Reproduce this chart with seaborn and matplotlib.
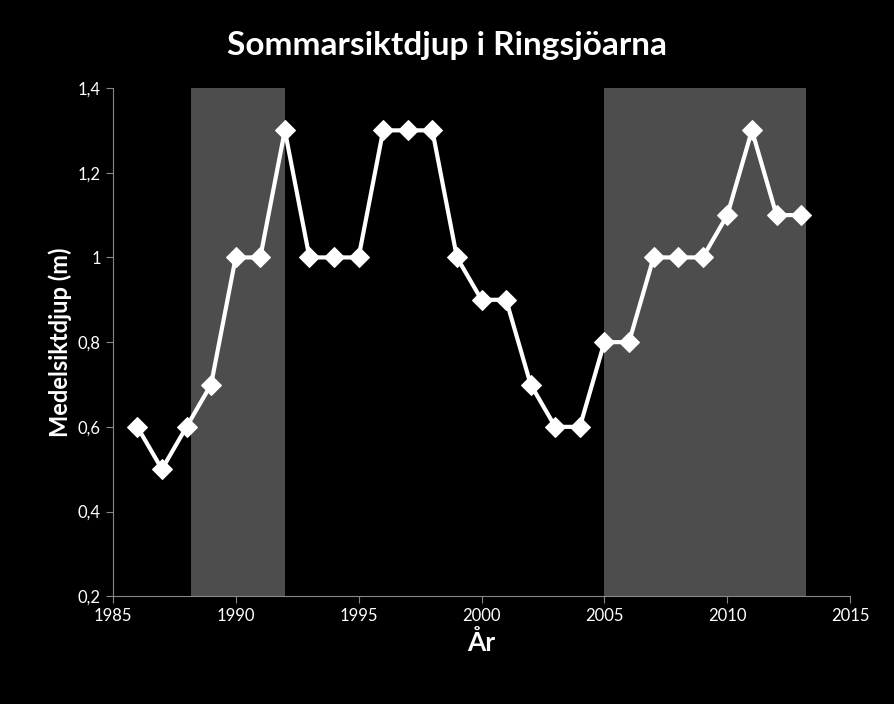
import matplotlib
matplotlib.use("Agg")
import matplotlib.pyplot as plt
import seaborn as sns
import pandas as pd

years = list(range(1986, 2014))
depth = [0.6, 0.5, 0.6, 0.7, 1.0, 1.0, 1.3, 1.0, 1.0, 1.0, 1.3, 1.3, 1.3, 1.0,
         0.9, 0.9, 0.7, 0.6, 0.6, 0.8, 0.8, 1.0, 1.0, 1.0, 1.1, 1.3, 1.1, 1.1]
shade_spans = [(1988.2, 1992.0), (2005.0, 2013.2)]
xticks = [1985, 1990, 1995, 2000, 2005, 2010, 2015]
yticks = [0.2, 0.4, 0.6, 0.8, 1.0, 1.2, 1.4]
ylabels = ["0,2", "0,4", "0,6", "0,8", "1", "1,2", "1,4"]

sns.set_style("dark")
plt.rcParams['font.family'] = ['Lato', 'DejaVu Sans']

fig = plt.figure(figsize=(8.95, 7.04), dpi=100, facecolor="black")
ax = fig.add_axes([0.126, 0.153, 0.824, 0.722])
ax.set_facecolor("black")

for a, b in shade_spans:
    ax.axvspan(a, b, color="#4d4d4d", zorder=0, lw=0)

df = pd.DataFrame({"year": years, "depth": depth})
sns.lineplot(data=df, x="year", y="depth", ax=ax, color="white", lw=3,
             marker="D", markersize=10, markeredgecolor="white", zorder=3)

ax.set_xlim(1985, 2015)
ax.set_ylim(0.2, 1.4)
ax.set_xticks(xticks)
ax.set_xticklabels([str(t) for t in xticks])
ax.set_yticks(yticks)
ax.set_yticklabels(ylabels)
ax.tick_params(colors="white", labelsize=12, length=5, direction="out",
               bottom=True, left=True, color="#888888")
ax.grid(False)
for s in ["top", "right"]:
    ax.spines[s].set_visible(False)
for s in ["left", "bottom"]:
    ax.spines[s].set_visible(True)
    ax.spines[s].set_color("#888888")
ax.set_xlabel("År", color="white", fontsize=19, fontweight="bold")
ax.set_ylabel("Medelsiktdjup (m)", color="white", fontsize=17, fontweight="bold")
fig.text(0.5, 0.935, "Sommarsiktdjup i Ringsjöarna", color="white",
         fontsize=24, fontweight="bold", ha="center", va="center")

fig.savefig("out.png", facecolor="black")
